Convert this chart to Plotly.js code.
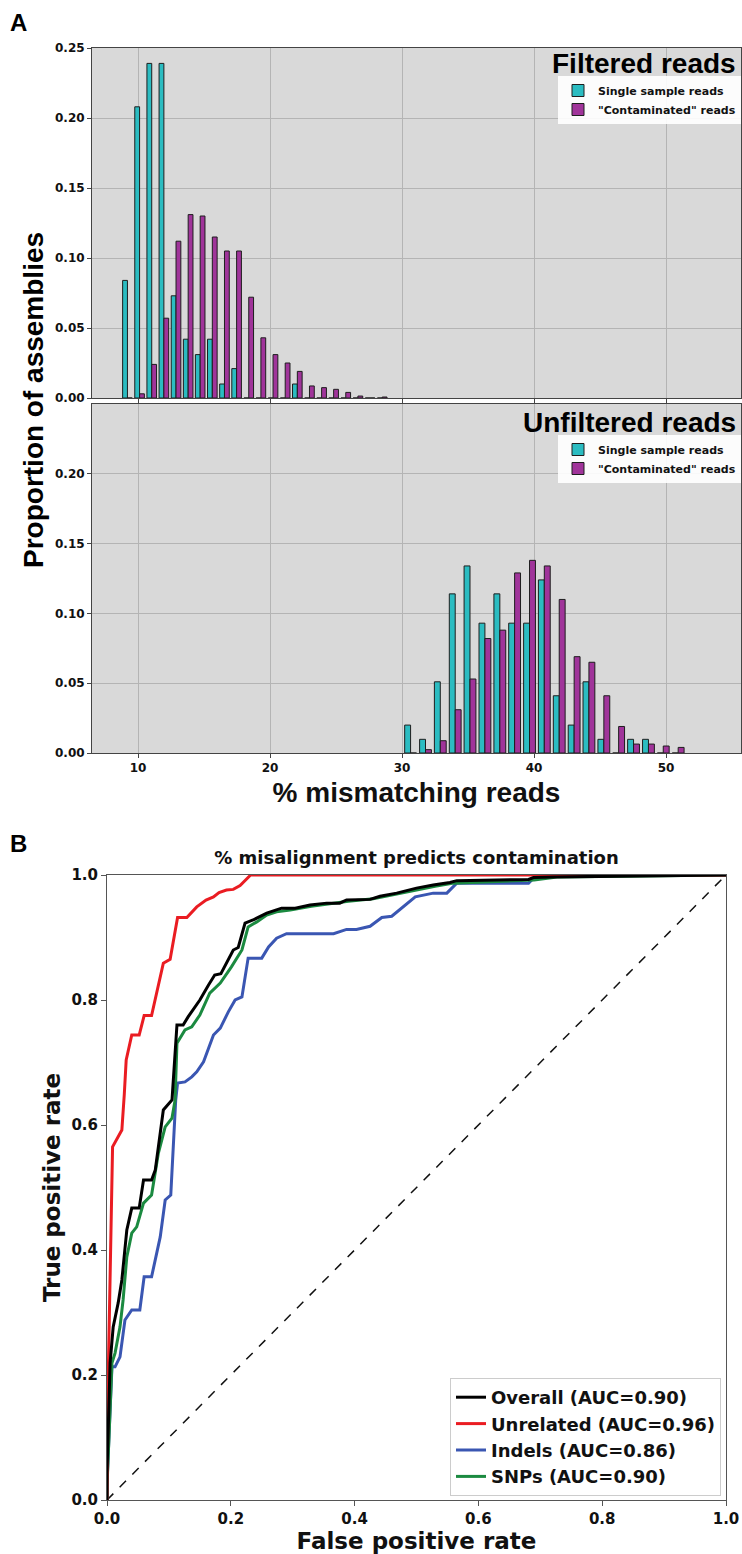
<!DOCTYPE html>
<html><head><meta charset="utf-8">
<script src="https://cdn.plot.ly/plotly-3.0.1.min.js"></script>
<style>html,body{margin:0;padding:0;background:#fff}#chart{width:742px;height:1554px}</style>
</head><body><div id="chart"></div>
<script>
// ---------- Panel A data (histogram bin centres, % mismatching reads) ----------
const filteredBins = [9.20, 10.12, 11.04, 11.96, 12.88, 13.80, 14.71, 15.63, 16.55, 17.47, 18.39, 19.31, 20.23, 21.15, 22.07, 22.99, 23.91, 24.82, 25.74, 26.66, 27.58, 28.50];
const filteredSingle = [0.084, 0.208, 0.239, 0.239, 0.073, 0.042, 0.031, 0.042, 0.010, 0.021, 0, 0, 0, 0, 0.010, 0, 0, 0, 0, 0, 0, 0];
const filteredContam = [0, 0.003, 0.024, 0.057, 0.112, 0.131, 0.130, 0.115, 0.105, 0.105, 0.072, 0.043, 0.031, 0.025, 0.019, 0.0086, 0.0074, 0.0062, 0.004, 0.0014, 0, 0.0007];

const unfilteredBins = [30.65, 31.78, 32.90, 34.03, 35.15, 36.28, 37.41, 38.53, 39.66, 40.78, 41.91, 43.04, 44.16, 45.29, 46.41, 47.54, 48.67, 49.79, 50.92];
const unfilteredSingle = [0.020, 0.0098, 0.051, 0.114, 0.134, 0.093, 0.114, 0.093, 0.093, 0.124, 0.041, 0.020, 0.051, 0.0098, 0, 0.0098, 0.0098, 0, 0];
const unfilteredContam = [0, 0.0024, 0.0088, 0.031, 0.053, 0.082, 0.088, 0.129, 0.138, 0.134, 0.110, 0.069, 0.065, 0.041, 0.019, 0.0064, 0.0064, 0.005, 0.004];

const seriesNames = ['Single sample reads', '"Contaminated" reads'];
const histXTicks = [10, 20, 30, 40, 50];
const propTicksTop = [0, 0.05, 0.10, 0.15, 0.20, 0.25];
const propTicksBottom = [0, 0.05, 0.10, 0.15, 0.20];

// ---------- Panel B data (ROC curves) ----------
const overallFpr = [0, 0, 0.005, 0.010, 0.018, 0.024, 0.032, 0.040, 0.052, 0.059, 0.072, 0.078, 0.091, 0.102, 0.105, 0.113, 0.123, 0.131, 0.150, 0.164, 0.174, 0.184, 0.193, 0.204, 0.212, 0.223, 0.236, 0.258, 0.282, 0.304, 0.328, 0.355, 0.376, 0.387, 0.425, 0.441, 0.468, 0.500, 0.527, 0.554, 0.565, 0.681, 0.689, 0.721, 1.0];
const overallTpr = [0, 0.043, 0.219, 0.277, 0.315, 0.352, 0.432, 0.467, 0.467, 0.512, 0.512, 0.528, 0.624, 0.637, 0.640, 0.760, 0.760, 0.773, 0.800, 0.824, 0.840, 0.842, 0.858, 0.880, 0.884, 0.923, 0.928, 0.939, 0.947, 0.947, 0.952, 0.955, 0.955, 0.960, 0.961, 0.966, 0.971, 0.979, 0.984, 0.988, 0.991, 0.993, 0.996, 0.997, 1.0];

const unrelatedFpr = [0, 0.002, 0.009, 0.018, 0.024, 0.028, 0.031, 0.040, 0.052, 0.060, 0.072, 0.091, 0.102, 0.114, 0.129, 0.145, 0.160, 0.172, 0.181, 0.193, 0.204, 0.215, 0.226, 0.232, 1.0];
const unrelatedTpr = [0, 0.20, 0.565, 0.581, 0.592, 0.65, 0.704, 0.744, 0.744, 0.775, 0.775, 0.859, 0.865, 0.932, 0.932, 0.949, 0.960, 0.965, 0.972, 0.976, 0.977, 0.983, 0.995, 1.0, 1.0];

const indelsFpr = [0, 0, 0.008, 0.013, 0.021, 0.029, 0.040, 0.053, 0.060, 0.072, 0.086, 0.094, 0.103, 0.111, 0.114, 0.126, 0.137, 0.145, 0.156, 0.172, 0.183, 0.196, 0.207, 0.218, 0.228, 0.250, 0.261, 0.274, 0.290, 0.366, 0.387, 0.403, 0.425, 0.444, 0.460, 0.498, 0.527, 0.549, 0.565, 0.681, 0.689, 0.730, 1.0];
const indelsTpr = [0, 0.027, 0.213, 0.213, 0.229, 0.288, 0.304, 0.304, 0.357, 0.357, 0.421, 0.480, 0.488, 0.640, 0.667, 0.669, 0.677, 0.685, 0.701, 0.744, 0.755, 0.781, 0.800, 0.805, 0.867, 0.867, 0.885, 0.899, 0.906, 0.906, 0.913, 0.913, 0.918, 0.932, 0.934, 0.965, 0.971, 0.971, 0.987, 0.987, 0.995, 1.0, 1.0];

const snpsFpr = [0, 0, 0.008, 0.013, 0.021, 0.026, 0.032, 0.040, 0.048, 0.059, 0.072, 0.083, 0.094, 0.105, 0.110, 0.113, 0.126, 0.137, 0.150, 0.166, 0.183, 0.201, 0.218, 0.228, 0.242, 0.258, 0.274, 0.296, 0.330, 0.360, 0.390, 0.430, 0.470, 0.500, 0.530, 0.560, 0.690, 0.730, 1.0];
const snpsTpr = [0, 0.021, 0.219, 0.235, 0.277, 0.320, 0.389, 0.427, 0.437, 0.475, 0.488, 0.555, 0.597, 0.611, 0.640, 0.731, 0.752, 0.757, 0.776, 0.811, 0.827, 0.853, 0.880, 0.917, 0.925, 0.936, 0.941, 0.944, 0.950, 0.954, 0.958, 0.962, 0.970, 0.977, 0.982, 0.987, 0.992, 0.997, 1.0];

const rocNames = ['Overall (AUC=0.90)', 'Unrelated (AUC=0.96)', 'Indels (AUC=0.86)', 'SNPs (AUC=0.90)'];
const chanceLine = [0, 1];
const rocTicks = [0, 0.2, 0.4, 0.6, 0.8, 1.0];

// ---------- styling ----------
const W = 742, H = 1554;
const px = v => v / W;
const py = v => 1 - v / H;
const TEAL = '#2bbcc1', PURPLE = '#a0349a', EDGE = '#1e1e1e';
const HIST_BG = '#d9d9d9', GRID = '#b4b4b4', AXL = '#444';
const DV = 'DejaVu Sans, Verdana, sans-serif';
const AR = 'Liberation Sans, Arial, sans-serif';
const tickFontA = {family: DV, size: 12, color: '#111', weight: 700};
const tickFontB = {family: DV, size: 15, color: '#111', weight: 700};

function bar(x, y, name, color, xa, ya, lg) {
  return {type: 'bar', x: x, y: y, name: name, xaxis: xa, yaxis: ya, legend: lg,
    marker: {color: color, line: {color: EDGE, width: 1}}, hoverinfo: 'x+y'};
}
function roc(x, y, name, color, rank) {
  return {type: 'scatter', mode: 'lines', x: x, y: y, name: name, xaxis: 'x3', yaxis: 'y3',
    legend: 'legend3', legendrank: rank, line: {color: color, width: 3}};
}

const data = [
  bar(filteredBins, filteredSingle, seriesNames[0], TEAL, 'x', 'y', 'legend'),
  bar(filteredBins, filteredContam, seriesNames[1], PURPLE, 'x', 'y', 'legend'),
  bar(unfilteredBins, unfilteredSingle, seriesNames[0], TEAL, 'x2', 'y2', 'legend2'),
  bar(unfilteredBins, unfilteredContam, seriesNames[1], PURPLE, 'x2', 'y2', 'legend2'),
  {type: 'scatter', mode: 'lines', x: chanceLine, y: chanceLine, xaxis: 'x3', yaxis: 'y3',
   showlegend: false, line: {color: '#111', width: 1.5, dash: 'dash'}, hoverinfo: 'skip'},
  roc(indelsFpr, indelsTpr, rocNames[2], '#3a56b2', 3),
  roc(snpsFpr, snpsTpr, rocNames[3], '#1b8a40', 4),
  roc(unrelatedFpr, unrelatedTpr, rocNames[1], '#ea1c22', 2),
  roc(overallFpr, overallTpr, rocNames[0], '#000000', 1)
];

const histX = (anchor, showLabels) => ({
  domain: [px(92), px(741)], anchor: anchor, range: [6.515, 55.68],
  tickvals: histXTicks, showticklabels: showLabels, tickfont: tickFontA,
  ticks: 'outside', ticklen: 4, tickcolor: AXL, showgrid: true, gridcolor: GRID, gridwidth: 1,
  showline: true, mirror: true, linecolor: AXL, linewidth: 1, zeroline: false
});
const histY = (anchor, dom, tv) => ({
  domain: dom, anchor: anchor, range: [0, 0.25], tickvals: tv, tickformat: '.2f',
  tickfont: tickFontA, ticks: 'outside', ticklen: 4, tickcolor: AXL,
  showgrid: true, gridcolor: GRID, gridwidth: 1,
  showline: true, mirror: true, linecolor: AXL, linewidth: 1, zeroline: false
});

const legendBase = {xanchor: 'right', yanchor: 'top', bgcolor: 'rgba(255,255,255,0.9)',
  borderwidth: 0, font: {family: DV, size: 11, color: '#111', weight: 700}, tracegroupgap: 0,
  itemclick: false, itemdoubleclick: false};

const layout = {
  width: W, height: H,
  margin: {l: 0, r: 0, t: 0, b: 0},
  paper_bgcolor: '#ffffff', plot_bgcolor: 'rgba(0,0,0,0)',
  barmode: 'group', bargap: 0.2, bargroupgap: 0,
  showlegend: true,
  font: {family: DV, color: '#111'},
  title: {text: '% misalignment predicts contamination', x: px(416.5), xanchor: 'center',
    y: py(858), yanchor: 'middle', xref: 'paper', yref: 'paper',
    font: {family: DV, size: 18, color: '#111', weight: 700}},
  xaxis: histX('y', false),
  yaxis: histY('x', [py(398), py(48)], propTicksTop),
  xaxis2: Object.assign(histX('y2', true), {
    title: {text: '% mismatching reads', standoff: 7, font: {family: AR, size: 28, color: '#111', weight: 700}}}),
  yaxis2: histY('x2', [py(753), py(404)], propTicksBottom),
  xaxis3: {domain: [px(107), px(726)], anchor: 'y3', range: [0, 1], tickvals: rocTicks, tickformat: '.1f',
    tickfont: tickFontB, ticks: 'outside', ticklen: 5, tickcolor: '#555', showgrid: false,
    showline: true, mirror: true, linecolor: '#555', linewidth: 1, zeroline: false,
    title: {text: 'False positive rate', standoff: 4, font: {family: DV, size: 23, color: '#111', weight: 700}}},
  yaxis3: {domain: [py(1500), py(875)], anchor: 'x3', range: [0, 1], tickvals: rocTicks, tickformat: '.1f',
    tickfont: tickFontB, ticks: 'outside', ticklen: 5, tickcolor: '#555', showgrid: false,
    showline: true, mirror: true, linecolor: '#555', linewidth: 1, zeroline: false,
    title: {text: 'True positive rate', standoff: 4, font: {family: DV, size: 23, color: '#111', weight: 700}}},
  legend: Object.assign({}, legendBase, {x: px(741), y: py(76)}),
  legend2: Object.assign({}, legendBase, {x: px(741), y: py(435)}),
  legend3: {x: px(721), y: py(1496), xanchor: 'right', yanchor: 'bottom',
    bgcolor: 'rgba(255,255,255,0.9)', bordercolor: '#cccccc', borderwidth: 1,
    font: {family: DV, size: 18, color: '#111', weight: 700}, tracegroupgap: 0,
    itemclick: false, itemdoubleclick: false},
  shapes: [
    {type: 'rect', xref: 'x domain', yref: 'y domain', x0: 0, x1: 1, y0: 0, y1: 1,
     fillcolor: HIST_BG, line: {width: 0}, layer: 'below'},
    {type: 'rect', xref: 'x2 domain', yref: 'y2 domain', x0: 0, x1: 1, y0: 0, y1: 1,
     fillcolor: HIST_BG, line: {width: 0}, layer: 'below'}
  ],
  annotations: [
    {text: 'A', xref: 'paper', yref: 'paper', x: px(8), y: py(22), xanchor: 'left', yanchor: 'middle',
     showarrow: false, font: {family: AR, size: 24, color: '#000', weight: 700}},
    {text: 'B', xref: 'paper', yref: 'paper', x: px(8), y: py(843), xanchor: 'left', yanchor: 'middle',
     showarrow: false, font: {family: AR, size: 24, color: '#000', weight: 700}},
    {text: 'Filtered reads', xref: 'paper', yref: 'paper', x: px(738), y: py(64), xanchor: 'right', yanchor: 'middle',
     showarrow: false, font: {family: AR, size: 28, color: '#000', weight: 700}},
    {text: 'Unfiltered reads', xref: 'paper', yref: 'paper', x: px(738), y: py(422), xanchor: 'right', yanchor: 'middle',
     showarrow: false, font: {family: AR, size: 28, color: '#000', weight: 700}},
    {text: 'Proportion of assemblies', xref: 'paper', yref: 'paper', x: px(33), y: py(400), xanchor: 'center', yanchor: 'middle',
     textangle: -90, showarrow: false, font: {family: AR, size: 28, color: '#000', weight: 700}}
  ]
};

Plotly.newPlot('chart', data, layout, {staticPlot: true, displayModeBar: false});
</script>
</body></html>
